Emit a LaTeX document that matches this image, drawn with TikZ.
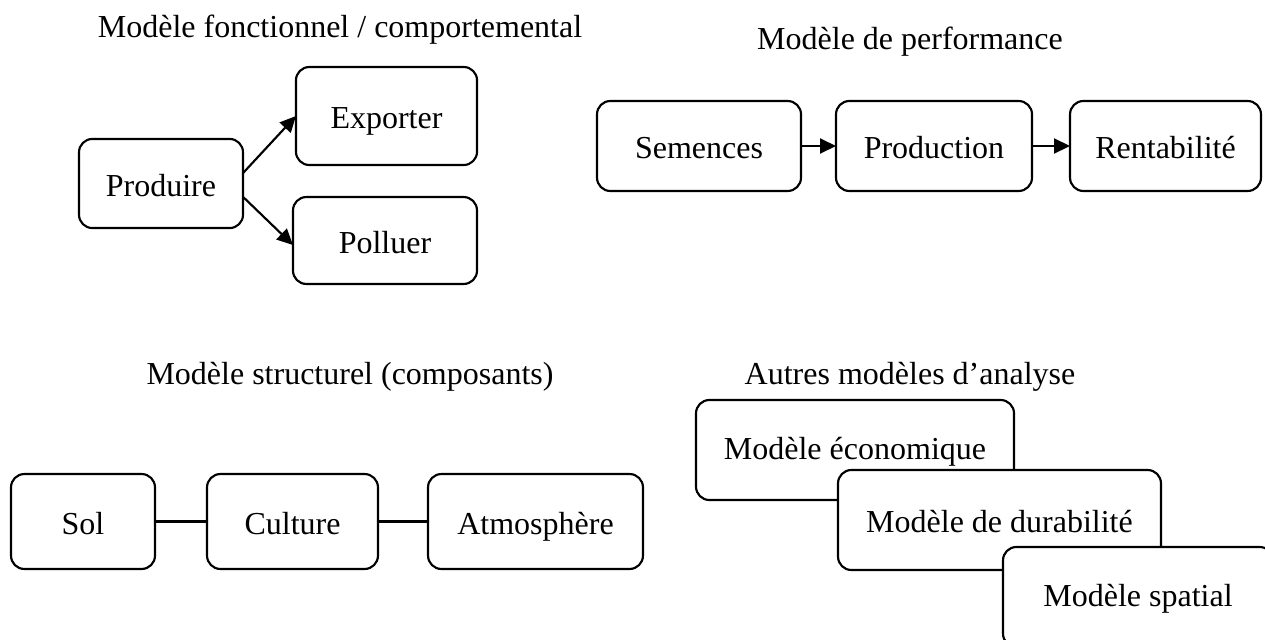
\documentclass[tikz,border=0pt]{standalone}
\usepackage{fontspec}
\setmainfont{Liberation Serif}
\usetikzlibrary{arrows.meta}
\begin{document}
\begin{tikzpicture}[line cap=round,line join=round,x=0.375pt,y=-0.375pt,
  box/.style={draw,line width=0.8pt,rounded corners=5pt,fill=white,inner sep=0pt,outer sep=0pt,text height=11pt,text depth=1.5pt,font=\fontsize{12}{14}\selectfont},
  titre/.style={font=\fontsize{12}{14}\selectfont},
  fleche/.style={line width=0.8pt,-{Triangle[length=6pt,width=5.6pt]}}]
\useasboundingbox (0,0) rectangle (1265,639);
\node[titre] (t1) at (340,30) {Modèle fonctionnel / comportemental};
\node[titre] (t2) at (910,42) {Modèle de performance};
\node[titre] (t3) at (350,377) {Modèle structurel (composants)};
\node[titre] (t4) at (910,377) {Autres modèles d’analyse};
\node[box,minimum width=61.5pt,minimum height=33.4pt] (prod) at (161,183.5) {Produire};
\node[box,minimum width=67.9pt,minimum height=36.75pt] (exp) at (386.5,116) {Exporter};
\node[box,minimum width=69pt,minimum height=32.6pt] (pol) at (385,240.5) {Polluer};
\draw[fleche] ([yshift=3.9pt]prod.east) -- (exp.west);
\draw[fleche] ([yshift=-5pt]prod.east) -- ([yshift=-1.7pt]pol.west);
\node[box,minimum width=76.5pt,minimum height=33.75pt] (sem) at (699,146) {Semences};
\node[box,minimum width=73.5pt,minimum height=33.75pt] (pro) at (934,146) {Production};
\node[box,minimum width=71.6pt,minimum height=33.75pt] (ren) at (1165.5,146) {Rentabilité};
\draw[fleche] (sem) -- (pro);
\draw[fleche] (pro) -- (ren);
\node[box,minimum width=54pt,minimum height=35.6pt] (sol) at (83,521.5) {Sol};
\node[box,minimum width=64.1pt,minimum height=35.6pt] (cul) at (292.5,521.5) {Culture};
\node[box,minimum width=80.6pt,minimum height=35.6pt] (atm) at (535.5,521.5) {Atmosphère};
\draw[line width=0.8pt] (sol) -- (cul);
\draw[line width=0.8pt] (cul) -- (atm);
\node[box,text depth=4pt,minimum width=119.25pt,minimum height=37.5pt] (eco) at (855,450) {Modèle économique};
\node[box,minimum width=121.1pt,minimum height=37.5pt] (dur) at (999.5,520) {Modèle de durabilité};
\node[box,text depth=4pt,minimum width=101.25pt,minimum height=37.5pt] (spa) at (1138,597) {Modèle spatial};
\end{tikzpicture}
\end{document}
